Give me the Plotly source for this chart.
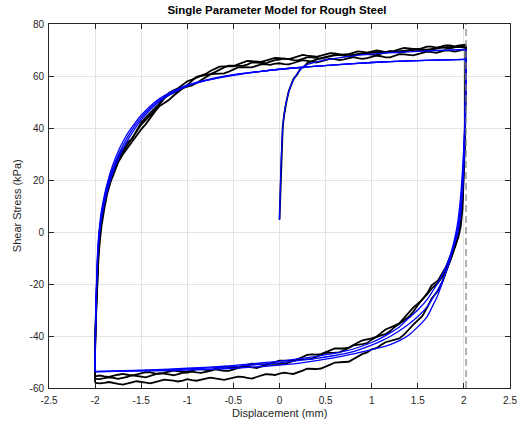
import plotly.graph_objects as go

# ---------------------------------------------------------------------------
# Axis ticks
# ---------------------------------------------------------------------------
x_ticks = [-2.5, -2.0, -1.5, -1.0, -0.5, 0.0, 0.5, 1.0, 1.5, 2.0, 2.5]
x_tick_labels = ["-2.5", "-2", "-1.5", "-1", "-0.5", "0", "0.5", "1", "1.5", "2", "2.5"]
y_ticks = [-60, -40, -20, 0, 20, 40, 60, 80]
y_tick_labels = ["-60", "-40", "-20", "0", "20", "40", "60", "80"]

# Peak displacement of the imposed cycles (mm)
peak_disp = 2.023

# ---------------------------------------------------------------------------
# Measured shear stress (kPa) vs displacement (mm)
# ---------------------------------------------------------------------------
# initial loading from rest
exp_init_x = [0.0, 0.004, 0.008, 0.013, 0.02, 0.028, 0.035, 0.05, 0.065, 0.078,
              0.1, 0.125, 0.15, 0.19, 0.23, 0.26, 0.3, 0.35, 0.4, 0.45,
              0.5, 0.6, 0.7, 0.8, 0.9, 1.0, 1.1, 1.2, 1.3, 1.4,
              1.5, 1.6, 1.7, 1.8, 1.9, 2.0, 2.02]
exp_init_y = [4.8, 9.8, 15.8, 23.0, 29.8, 35.9, 40.3, 45.0, 48.9, 50.6,
              54.1, 56.2, 58.8, 60.5, 63.0, 63.4, 64.9, 65.7, 66.3, 66.7,
              67.4, 67.9, 68.3, 68.2, 68.5, 69.0, 69.3, 69.2, 69.5, 70.0,
              70.2, 70.1, 70.6, 71.1, 71.2, 71.0, 71.3]

# displacement samples on the forward (increasing) strokes
exp_up_x = [-2.0, -2.0, -1.99, -1.98, -1.965, -1.95, -1.93, -1.9, -1.87, -1.83, -1.79, -1.75, -1.7, -1.65,
            -1.6, -1.55, -1.5, -1.45, -1.4, -1.35, -1.3, -1.25, -1.2, -1.15,
            -1.1, -1.05, -1.0, -0.95, -0.9, -0.85, -0.8, -0.75, -0.7, -0.65,
            -0.6, -0.55, -0.5, -0.45, -0.4, -0.35, -0.3, -0.25, -0.2, -0.15, -0.1, -0.05,
            0.0, 0.05, 0.1, 0.15, 0.2, 0.25, 0.3, 0.35, 0.4, 0.45,
            0.5, 0.55, 0.6, 0.65, 0.7, 0.75, 0.8, 0.85, 0.9, 0.95,
            1.0, 1.05, 1.1, 1.15, 1.2, 1.25, 1.3, 1.35, 1.4, 1.45,
            1.5, 1.55, 1.6, 1.65, 1.7, 1.75, 1.8, 1.85, 1.9, 1.95, 2.0, 2.02]

# displacement samples on the return (decreasing) strokes
exp_low_x = [2.02, 2.02, 2.015, 2.01, 2.0, 1.985, 1.965, 1.94, 1.91, 1.88, 1.85, 1.81, 1.77, 1.72,
             1.65, 1.6, 1.55, 1.5, 1.45, 1.4, 1.35, 1.3, 1.25, 1.2, 1.15, 1.1, 1.05, 1.0,
             0.95, 0.9, 0.85, 0.8, 0.75, 0.7, 0.65, 0.6, 0.55, 0.5,
             0.45, 0.4, 0.35, 0.3, 0.25, 0.2, 0.15, 0.1, 0.05, 0.0,
             -0.05, -0.1, -0.15, -0.2, -0.25, -0.3, -0.35, -0.4, -0.45, -0.5,
             -0.55, -0.6, -0.65, -0.7, -0.75, -0.8, -0.85, -0.9, -0.95, -1.0,
             -1.05, -1.1, -1.15, -1.2, -1.25, -1.3, -1.35, -1.4, -1.45, -1.5,
             -1.55, -1.6, -1.65, -1.7, -1.75, -1.8, -1.85, -1.9, -1.95, -2.0]

exp_low1_y = [71.3, 60, 48, 38, 25, 14, 6, 0.2, -3.8, -7.2, -9.6, -13.2, -15.6, -18.6,
              -20.5, -23.7, -26.0, -27.6, -29.1, -31.1, -33.3, -35.1, -36.0, -36.7, -37.5, -38.9, -40.3, -40.9,
              -41.3, -41.7, -42.5, -43.6, -44.5, -44.8, -44.8, -44.8, -45.5, -46.3,
              -47.0, -47.2, -47.1, -47.3, -48.1, -48.9, -49.6, -49.5, -49.4, -49.5,
              -50.0, -50.6, -51.1, -50.9, -50.7, -50.6, -51.1, -51.7, -52.2, -52.2,
              -51.9, -51.8, -52.2, -52.7, -53.2, -53.0, -52.7, -52.7, -53.2, -53.7,
              -53.8, -53.5, -53.3, -53.7, -54.2, -54.6, -54.4, -54.0, -53.9, -54.4,
              -54.9, -55.2, -54.9, -54.6, -54.9, -55.4, -55.7, -55.5, -55.2, -55.5]
exp_up1_y = [-55.5, -44, -31, -19, -9, -2, 4.5, 11, 16, 21, 24.8, 28, 30.8, 33.5,
             35.7, 38.7, 41.3, 43.1, 45.0, 47.0, 49.3, 51.4, 52.7, 53.6,
             54.4, 55.2, 56.6, 58.1, 59.7, 60.1, 60.5, 60.7, 61.5, 62.5,
             63.3, 64.0, 64.0, 63.9, 63.9, 64.4, 65.2, 65.2, 65.0, 64.9, 65.5, 66.1,
             66.3, 66.7, 66.5, 66.1, 66.0, 66.6, 67.2, 67.2, 66.9, 66.7,
             67.1, 67.7, 68.2, 68.1, 67.8, 67.5, 67.9, 68.4, 68.7, 68.4,
             68.2, 68.0, 68.6, 69.2, 69.6, 69.3, 69.0, 69.3, 69.9, 70.4,
             70.3, 69.8, 69.6, 70.1, 70.6, 71.1, 70.8, 70.6, 71.0, 71.6, 71.5, 71.4]

exp_low2_y = [71.4, 58, 46, 36, 23, 12.5, 4.5, -1.0, -5, -8.5, -11.2, -14.5, -17, -19.5,
              -21.8, -24.0, -25.8, -28.2, -30.7, -32.7, -34.0, -35.0, -36.5, -38.1, -39.3, -39.8, -40.4, -41.4,
              -42.7, -43.1, -43.3, -43.6, -44.6, -45.5, -46.3, -46.4, -46.4, -46.5,
              -47.2, -48.1, -48.8, -48.9, -48.9, -49.0, -49.6, -50.3, -50.8, -50.7,
              -50.6, -50.6, -51.2, -51.8, -52.3, -52.1, -51.8, -51.8, -52.3, -52.9,
              -53.4, -53.4, -53.1, -52.8, -53.4, -53.9, -54.2, -54.0, -53.7, -54.1,
              -54.2, -54.7, -55.1, -54.8, -54.5, -54.3, -54.8, -55.5, -55.9, -55.6,
              -55.3, -55.1, -55.7, -56.2, -56.5, -56.1, -55.9, -56.2, -56.6, -56.5]
exp_up2_y = [-56.5, -43, -29, -16.5, -6.5, 0.5, 6.5, 12.5, 17.5, 22, 25.8, 29, 31.8, 34.5,
             35.8, 38.9, 42.1, 44.1, 45.9, 47.3, 49.5, 51.6, 53.5, 54.5,
             55.3, 56.6, 58.0, 58.6, 59.3, 59.8, 60.8, 61.9, 62.8, 63.6,
             63.7, 63.6, 63.7, 64.5, 65.2, 65.8, 65.7, 65.5, 65.4, 65.9, 66.6, 67.0,
             66.9, 66.6, 66.5, 67.0, 67.6, 68.1, 67.8, 67.7, 67.4, 67.8,
             68.4, 68.8, 68.7, 68.3, 68.0, 68.4, 69.0, 69.5, 69.3, 69.0,
             69.4, 69.8, 69.6, 69.2, 69.2, 69.7, 70.4, 70.8, 70.6, 70.3,
             70.2, 70.7, 71.3, 71.3, 70.9, 71.3, 71.8, 71.8, 71.4, 71.8, 72.2, 72.1]

exp_low3_y = [72.1, 56, 44, 33, 20, 9, 2, -2, -5, -8, -11, -15.5, -19, -22.5,
              -25.7, -29.2, -32.3, -34.0, -35.6, -37.6, -39.5, -40.9, -41.5, -41.9, -42.4, -43.5, -44.7, -45.1,
              -46.3, -46.9, -47.9, -49.1, -49.9, -50.0, -50.0, -50.2, -51.0, -51.8,
              -52.5, -52.7, -52.6, -52.6, -53.3, -54.0, -54.6, -54.4, -54.1, -54.5,
              -55.0, -54.8, -54.7, -55.2, -55.9, -56.4, -56.1, -55.7, -55.6, -56.1,
              -56.6, -56.9, -56.6, -56.2, -56.0, -56.4, -56.9, -57.2, -57.0, -56.6,
              -57.2, -57.5, -57.2, -56.9, -56.8, -57.3, -57.8, -58.2, -57.9, -57.6,
              -57.4, -57.8, -58.3, -58.7, -58.4, -58.0, -57.7, -58.0, -58.2, -58.0]
exp_up3_y = [-58.0, -46, -33, -21, -11, -4, 2.5, 9, 14.5, 19.5, 23.5, 26.8, 29.8, 32.3,
             34.7, 37.1, 39.5, 41.5, 44.1, 46.4, 48.5, 49.7, 50.8, 52.4,
             54.0, 55.3, 55.9, 56.4, 57.3, 58.4, 59.6, 60.6, 60.8, 60.8,
             61.0, 61.7, 62.5, 63.3, 63.4, 63.3, 63.3, 63.9, 64.5, 64.5, 64.3, 64.8,
             64.9, 64.6, 64.5, 65.0, 65.6, 66.1, 65.8, 65.5, 65.2, 65.6,
             66.2, 66.7, 66.5, 66.1, 66.4, 67.0, 67.3, 66.9, 66.6, 66.9,
             67.4, 67.8, 67.6, 67.2, 67.2, 67.7, 68.4, 68.3, 68.1, 67.9,
             68.4, 69.0, 69.4, 69.2, 68.9, 69.4, 69.9, 69.8, 69.4, 69.8, 70.3, 70.3]

# ---------------------------------------------------------------------------
# Single parameter model response
# ---------------------------------------------------------------------------
mod_init_x = [0.0, 0.004, 0.008, 0.013, 0.02, 0.028, 0.035, 0.05, 0.065, 0.078,
              0.1, 0.125, 0.15, 0.19, 0.23, 0.26, 0.3, 0.4, 0.5, 0.7,
              0.9, 1.09, 1.4, 1.7, 2.025]
mod_init_y = [4.6, 9.5, 15.5, 22.6, 29.5, 35.5, 40.0, 45.2, 48.6, 50.8,
              53.8, 56.4, 58.4, 60.8, 62.6, 63.6, 64.4, 65.4, 66.2, 67.3,
              68.1, 68.7, 69.3, 69.8, 70.2]

mod_low_x = [2.025, 2.022, 2.018, 2.012, 2.005, 1.995, 1.98, 1.96, 1.93, 1.9,
             1.86, 1.82, 1.77, 1.72, 1.66, 1.6, 1.5, 1.4, 1.3, 1.2,
             1.1, 1.0, 0.8, 0.6, 0.4, 0.2, 0.0, -0.3, -0.6, -1.0,
             -1.4, -1.8, -2.0]
mod_low1_y = [70.2, 62, 54, 46, 38, 30, 21, 12, 3, -2.5,
              -8, -12, -16, -19.5, -22.8, -26, -30, -33.2, -36.5, -38.8,
              -40.8, -42.5, -45.0, -46.6, -47.8, -48.8, -49.7, -50.7, -51.6, -52.4,
              -53.0, -53.4, -53.6]
mod_low2_y = [66.4, 59, 51, 43, 35, 27, 18, 9, 1, -3.5,
              -9.5, -14, -18.5, -22, -25.5, -28.8, -32.5, -35.5, -38, -40.2,
              -42.0, -43.5, -46.0, -47.5, -48.6, -49.5, -50.3, -51.2, -52.0, -52.7,
              -53.2, -53.6, -53.8]
mod_low3_y = [66.4, 60, 50, 40, 30, 22, 13, 5, -1, -4.5,
              -9, -13.5, -19, -24, -28.5, -32.6, -36.5, -39.7, -41.8, -43.3,
              -44.4, -45.2, -46.9, -48.3, -49.5, -50.5, -51.2, -52.0, -52.6, -53.1,
              -53.4, -53.6, -53.7]

mod_up_x = [-2.0, -1.998, -1.995, -1.99, -1.983, -1.975, -1.965, -1.95, -1.93, -1.9,
            -1.87, -1.83, -1.79, -1.75, -1.7, -1.64, -1.57, -1.5, -1.4, -1.3,
            -1.2, -1.1, -1.0, -0.8, -0.6, -0.4, -0.2, 0.0, 0.3, 0.6,
            1.0, 1.4, 1.8, 2.025]
mod_up1_y = [-53.6, -44, -35.5, -26.5, -17.5, -9.5, -3, 3, 8.5, 14,
             18.5, 23.5, 27.5, 31, 34.6, 38.3, 41.8, 44.9, 48.5, 51.3,
             53.4, 55.1, 56.5, 58.4, 59.9, 61.0, 61.8, 62.6, 63.5, 64.3,
             65.2, 65.8, 66.2, 66.4]
mod_up2_y = [-53.8, -45, -37, -28, -19, -11, -4.5, 1.5, 7, 12.5,
             17, 22, 26, 29.5, 33.2, 37, 40.8, 44, 47.8, 50.8,
             53, 54.8, 56.3, 58.3, 59.8, 60.9, 61.8, 62.6, 63.5, 64.3,
             65.2, 65.8, 66.2, 66.4]
mod_up3_y = [-53.7, -46, -38.5, -29.5, -20.5, -12.5, -6, 0, 5.5, 11,
             15.5, 20.5, 24.5, 28, 31.8, 35.7, 39.7, 43.1, 47.1, 50.3,
             52.6, 54.5, 56.1, 58.2, 59.7, 60.8, 61.8, 62.6, 63.5, 64.3,
             65.2, 65.8, 66.2, 66.4]

# ---------------------------------------------------------------------------
fig = go.Figure()

exp_line = dict(color="black", width=1.8)
exp_paths = [
    (exp_init_x, exp_init_y),
    (exp_low_x, exp_low1_y), (exp_up_x, exp_up1_y),
    (exp_low_x, exp_low2_y), (exp_up_x, exp_up2_y),
    (exp_low_x, exp_low3_y), (exp_up_x, exp_up3_y),
]
for xs, ys in exp_paths:
    fig.add_trace(go.Scatter(x=xs, y=ys, mode="lines", line=exp_line,
                             showlegend=False, hoverinfo="skip"))

mod_line = dict(color="rgb(0,0,255)", width=1.3, shape="spline", smoothing=0.7)
mod_paths = [
    (mod_init_x, mod_init_y),
    (mod_low_x, mod_low1_y), (mod_up_x, mod_up1_y),
    (mod_low_x, mod_low2_y), (mod_up_x, mod_up2_y),
    (mod_low_x, mod_low3_y), (mod_up_x, mod_up3_y),
]
for xs, ys in mod_paths:
    fig.add_trace(go.Scatter(x=xs, y=ys, mode="lines", line=mod_line,
                             showlegend=False, hoverinfo="skip"))

# vertical marker at the peak displacement
fig.add_shape(type="line", xref="x", yref="paper", x0=peak_disp, x1=peak_disp,
              y0=0, y1=1, layer="above",
              line=dict(color="rgb(128,128,128)", width=1.2, dash="7px,4px"))

axis_color = "#262626"
font_family = "Liberation Sans, Arial, Helvetica, sans-serif"
common_axis = dict(
    showline=True, linecolor=axis_color, linewidth=1, mirror="ticks",
    ticks="inside", ticklen=5, tickcolor=axis_color, tickwidth=1,
    showgrid=True, gridcolor="#e3e3e3", gridwidth=1, zeroline=False,
    automargin=False,
    tickfont=dict(family=font_family, size=10, color=axis_color),
)

# axis titles placed as annotations around the plot area
fig.add_annotation(text="Displacement (mm)", xref="paper", yref="paper",
                   x=0.5, y=-0.069, xanchor="center", yanchor="middle",
                   showarrow=False,
                   font=dict(family=font_family, size=11, color=axis_color))
fig.add_annotation(text="Shear Stress (kPa)", xref="paper", yref="paper",
                   x=-0.069, y=0.5, xanchor="center", yanchor="middle",
                   textangle=-90, showarrow=False,
                   font=dict(family=font_family, size=11, color=axis_color))

fig.update_layout(
    width=518, height=426,
    margin=dict(l=49, r=8, t=24, b=38),
    plot_bgcolor="white", paper_bgcolor="white",
    title=dict(text="<b>Single Parameter Model for Rough Steel</b>",
               x=0.5347, xanchor="center",
               y=1 - 10 / 426, yanchor="middle", yref="container",
               font=dict(family=font_family, size=11.5, color="black")),
    xaxis=dict(range=[-2.5, 2.5], tickvals=x_ticks, ticktext=x_tick_labels,
               ticklabelstandoff=3, **common_axis),
    yaxis=dict(range=[-60, 80], tickvals=y_ticks, ticktext=y_tick_labels,
               ticklabelstandoff=2, **common_axis),
)

fig.write_html("out.html")
